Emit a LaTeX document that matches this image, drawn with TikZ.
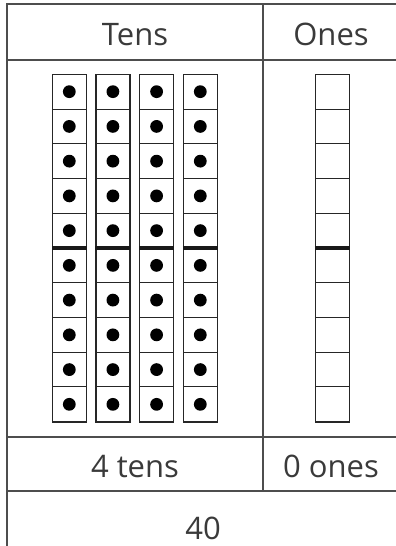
\documentclass[tikz,border=0pt]{standalone}
\usepackage{fontspec}
\setmainfont{Open Sans}
\definecolor{rule}{HTML}{4D4D4D}
\definecolor{txt}{HTML}{3A3A3A}
\begin{document}
\begin{tikzpicture}[x=1pt,y=-1pt,
  frameline/.style={draw=rule,line width=2pt},
  label/.style={anchor=base,text=txt,font=\fontsize{31}{36}\selectfont,inner sep=0pt},
  stick/.style={draw=black!85,line width=1.6pt},
  cellline/.style={draw=black!85,line width=1pt},
  midline/.style={draw=black!90,line width=3.2pt},
  dot/.style={fill=black}]
\useasboundingbox (0,0) rectangle (396,546);
% frame
\draw[frameline] (7,547) -- (7,4) -- (397,4);
\draw[frameline] (7,59.5) -- (397,59.5);
\draw[frameline] (7,436.5) -- (397,436.5);
\draw[frameline] (7,491) -- (397,491);
\draw[frameline] (263,4) -- (263,491);
% headers and labels
\node[label] (tens) at (135,45) {Tens};
\node[label] (ones) at (331,45) {Ones};
\node[label] (ftens) at (135,477) {4 tens};
\node[label] (fones) at (331,477) {0 ones};
\node[label] (total) at (203,539) {40};
% tens sticks
\foreach \xl in {52.3,95.9,139.6,183.3}{
  \foreach \k in {1,...,9}{
    \draw[cellline] (\xl,74.3+\k*34.74) -- (\xl+34,74.3+\k*34.74);
  }
  \foreach \k in {0,...,9}{
    \fill[dot] (\xl+17,74.3+\k*34.74+17.37) circle (6.4);
  }
  \draw[stick] (\xl,74.3) rectangle (\xl+34,421.7);
  \draw[midline] (\xl-0.5,248) -- (\xl+34.5,248);
}
% ones stick
\foreach \k in {1,...,9}{
  \draw[cellline] (315.3,74.3+\k*34.74) -- (349.3,74.3+\k*34.74);
}
\draw[stick] (315.3,74.3) rectangle (349.3,421.7);
\draw[midline] (314.8,248) -- (349.8,248);
\end{tikzpicture}
\end{document}
